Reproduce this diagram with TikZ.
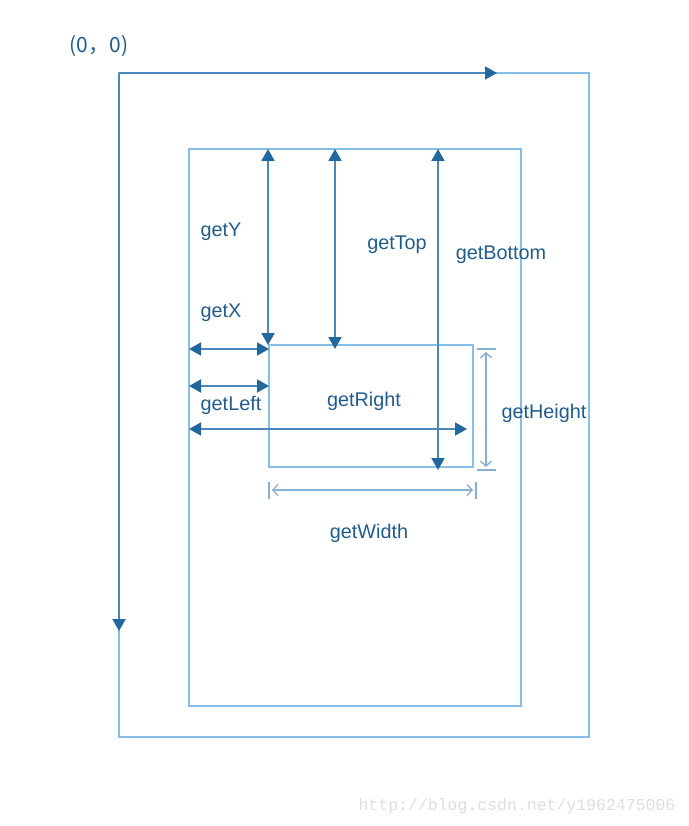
\documentclass[tikz,border=0pt]{standalone}
\usepackage{fontspec}
\setmainfont{Liberation Sans}
\newfontfamily\cjkfont{Noto Sans CJK SC}
\newfontfamily\wmfont{Liberation Mono}
\usetikzlibrary{arrows.meta}
\definecolor{boxblue}{HTML}{84BFEA}
\definecolor{arrblue}{HTML}{4A87BC}
\definecolor{tipblue}{HTML}{23679F}
\definecolor{txtblue}{HTML}{1F5C8E}
\definecolor{dimblue}{HTML}{86B0D2}
\definecolor{wmgrey}{HTML}{DDDDDD}
\tikzset{
  frame/.style={draw=boxblue, line width=1.7pt, inner sep=0pt, outer sep=0pt, anchor=north west},
  measure/.style={draw=arrblue, line width=1.9pt,
    {Triangle[length=12pt,width=13pt,color=tipblue]}-{Triangle[length=12pt,width=13pt,color=tipblue]}},
  oneway/.style={draw=arrblue, line width=1.9pt,
    -{Triangle[length=12pt,width=13pt,color=tipblue]}},
  dimline/.style={draw=dimblue, line width=1.3pt,
    {Straight Barb[length=5pt,width=11pt]}-{Straight Barb[length=5pt,width=11pt]}},
  tickline/.style={draw=dimblue, line width=1.4pt},
  lbl/.style={text=txtblue, font=\fontsize{19.8}{23}\selectfont, inner sep=0pt},
}
\begin{document}
\begin{tikzpicture}[x=1pt,y=-1pt]
\useasboundingbox (0,0) rectangle (688,826);
% frames
\node[frame, minimum width=470pt, minimum height=664pt] (outer) at (119,73) {};
\node[frame, minimum width=332pt, minimum height=557pt] (inner) at (189,149) {};
\node[frame, minimum width=204pt, minimum height=122pt] (child) at (269,345) {};
% axes
\coordinate (o) at (outer.north west);
\coordinate (xa) at (497,73);
\coordinate (ya) at (119,631);
\draw[oneway] (o) -- (xa);
\draw[oneway] (o) -- (ya);
% vertical measures
\coordinate (gyT) at (268,149);
\coordinate (gyB) at (268,345);
\coordinate (gtT) at (335,149);
\coordinate (gtB) at (335,349);
\coordinate (gbT) at (438,149);
\coordinate (gbB) at (438,470);
\draw[measure] (gyT) -- (gyB);
\draw[measure] (gtT) -- (gtB);
\draw[measure] (gbT) -- (gbB);
% horizontal measures
\coordinate (gxL) at (189,349);
\coordinate (gxR) at (269,349);
\coordinate (glL) at (189,386);
\coordinate (glR) at (269,386);
\coordinate (grL) at (189,429);
\coordinate (grR) at (467,429);
\draw[measure] (gxL) -- (gxR);
\draw[measure] (glL) -- (glR);
\draw[measure] (grL) -- (grR);
% height dimension
\coordinate (h1a) at (477,349); \coordinate (h1b) at (496,349);
\coordinate (h2a) at (477,470); \coordinate (h2b) at (496,470);
\coordinate (hT) at (486,352); \coordinate (hB) at (486,467);
\draw[tickline] (h1a) -- (h1b);
\draw[tickline] (h2a) -- (h2b);
\draw[dimline] (hT) -- (hB);
% width dimension
\coordinate (w1a) at (269,482); \coordinate (w1b) at (269,499);
\coordinate (w2a) at (476,482); \coordinate (w2b) at (476,499);
\coordinate (wL) at (272,490); \coordinate (wR) at (473,490);
\draw[tickline] (w1a) -- (w1b);
\draw[tickline] (w2a) -- (w2b);
\draw[dimline] (wL) -- (wR);
% labels
\node[text=txtblue, inner sep=0pt, font=\cjkfont\fontsize{21}{24}\selectfont] (origin) at (99,46) {(0，0)};
\node[lbl] (ly) at (221,232) {getY};
\node[lbl] (ltop) at (397,245) {getTop};
\node[lbl] (lbot) at (501,255) {getBottom};
\node[lbl] (lx) at (221,313) {getX};
\node[lbl] (lleft) at (231,405) {getLeft};
\node[lbl] (lright) at (364,401) {getRight};
\node[lbl] (lh) at (544,413) {getHeight};
\node[lbl] (lw) at (369,533) {getWidth};
\node[text=wmgrey, inner sep=0pt, font=\wmfont\fontsize{16.5}{18}\selectfont] (wm) at (517,806) {http://blog.csdn.net/y1962475006};
\end{tikzpicture}
\end{document}
